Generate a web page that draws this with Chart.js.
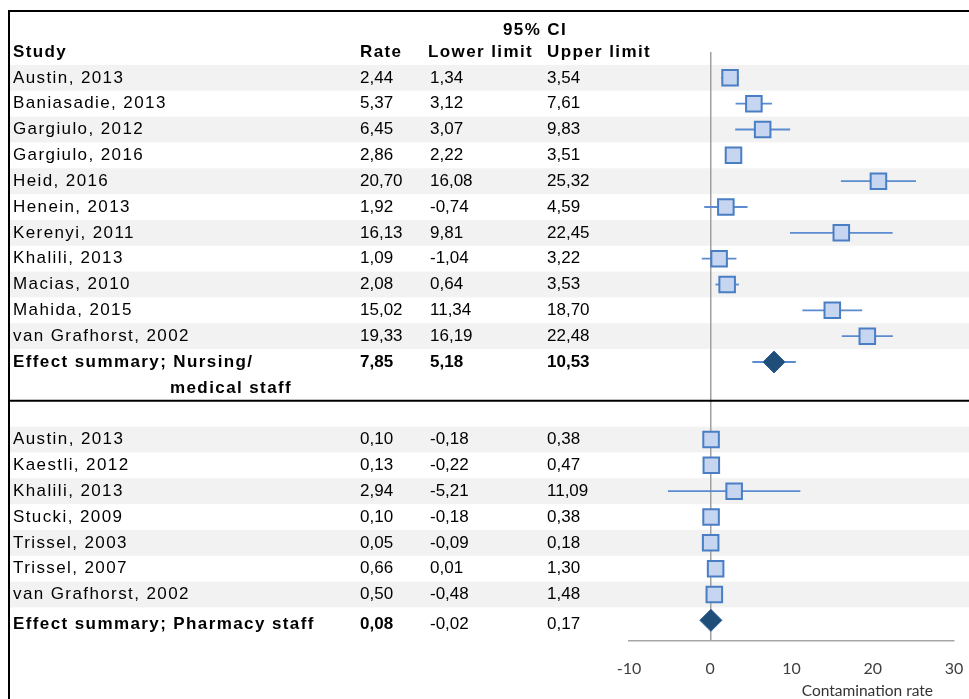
<!DOCTYPE html>
<html>
<head>
<meta charset="utf-8">
<script src="https://cdn.jsdelivr.net/npm/chart.js@4.4.1/dist/chart.umd.min.js"></script>
<style>
  html, body { margin: 0; padding: 0; background: #ffffff; }
  #wrap { width: 969px; height: 699px; position: relative; }
</style>
</head>
<body>
<div id="wrap"><canvas id="c" width="969" height="699"></canvas></div>
<script>
// ---- Data ----
const nursingStudies = ["Austin, 2013", "Baniasadie, 2013", "Gargiulo, 2012", "Gargiulo, 2016", "Heid, 2016", "Henein, 2013", "Kerenyi, 2011", "Khalili, 2013", "Macias, 2010", "Mahida, 2015", "van Grafhorst, 2002"];
const nursingRate  = [2.44, 5.37, 6.45, 2.86, 20.70, 1.92, 16.13, 1.09, 2.08, 15.02, 19.33];
const nursingLower = [1.34, 3.12, 3.07, 2.22, 16.08, -0.74, 9.81, -1.04, 0.64, 11.34, 16.19];
const nursingUpper = [3.54, 7.61, 9.83, 3.51, 25.32, 4.59, 22.45, 3.22, 3.53, 18.70, 22.48];
const nursingSummaryLabel = ["Effect summary; Nursing/", "medical staff"];
const nursingSummary = [7.85, 5.18, 10.53]; // rate, lower, upper

const pharmacyStudies = ["Austin, 2013", "Kaestli, 2012", "Khalili, 2013", "Stucki, 2009", "Trissel, 2003", "Trissel, 2007", "van Grafhorst, 2002"];
const pharmacyRate  = [0.10, 0.13, 2.94, 0.10, 0.05, 0.66, 0.50];
const pharmacyLower = [-0.18, -0.22, -5.21, -0.18, -0.09, 0.01, -0.48];
const pharmacyUpper = [0.38, 0.47, 11.09, 0.38, 0.18, 1.30, 1.48];
const pharmacySummaryLabel = "Effect summary; Pharmacy staff";
const pharmacySummary = [0.08, -0.02, 0.17];

const headerLabels = ["Study", "Rate", "Lower limit", "Upper limit"];
const ciHeader = "95% CI";
const xTickValues = [-10, 0, 10, 20, 30];
const xAxisTitle = "Contamination rate";

// ---- Row layout (row indices) ----
const rows = [];
nursingStudies.forEach((s, i) => rows.push({label: s, rate: nursingRate[i], lo: nursingLower[i], hi: nursingUpper[i], r: i, shade: i % 2 === 0}));
const nSumRow = nursingStudies.length;
rows.push({label: nursingSummaryLabel[0], rate: nursingSummary[0], lo: nursingSummary[1], hi: nursingSummary[2], r: nSumRow, summary: true, boldAll: true});
const pStart = nSumRow + 3;
pharmacyStudies.forEach((s, i) => rows.push({label: s, rate: pharmacyRate[i], lo: pharmacyLower[i], hi: pharmacyUpper[i], r: pStart + i, shade: i % 2 === 0}));
const pSumRow = pStart + pharmacyStudies.length;
rows.push({label: pharmacySummaryLabel, rate: pharmacySummary[0], lo: pharmacySummary[1], hi: pharmacySummary[2], r: pSumRow, summary: true, boldAll: false, textShift: 0.15});

const fmt = v => v.toFixed(2).replace('.', ',');

const TABLE_FONT = "'Liberation Sans', Arial, Helvetica, sans-serif";
const COL_STUDY = 13, COL_RATE = 360, COL_LOW = 430, COL_UP = 547;
const TRACK = '1.4px';

const tablePlugin = {
  id: 'tablePlugin',
  beforeDraw(chart) {
    const ctx = chart.ctx;
    const y = chart.scales.y;
    const h = Math.abs(y.getPixelForValue(1) - y.getPixelForValue(0));
    ctx.save();
    ctx.fillStyle = '#f2f2f2';
    rows.forEach(row => {
      if (row.shade) {
        const cy = y.getPixelForValue(row.r);
        ctx.fillRect(10, cy - h / 2, chart.width - 10, h);
      }
    });
    ctx.restore();
  },
  afterDraw(chart) {
    const ctx = chart.ctx;
    const y = chart.scales.y;
    ctx.save();
    ctx.strokeStyle = '#000000';
    ctx.lineWidth = 2;
    ctx.beginPath();
    ctx.moveTo(9, chart.height); ctx.lineTo(9, 11); ctx.lineTo(chart.width, 11);
    ctx.stroke();
    const sepY = y.getPixelForValue(nSumRow + 1.5);
    ctx.beginPath();
    ctx.moveTo(9, sepY); ctx.lineTo(chart.width, sepY);
    ctx.stroke();

    ctx.fillStyle = '#000000';
    ctx.textBaseline = 'middle';
    ctx.textAlign = 'left';
    ctx.font = "bold 17px " + TABLE_FONT;
    ctx.letterSpacing = TRACK;
    const hy = y.getPixelForValue(-1);
    ctx.fillText(headerLabels[0], COL_STUDY, hy);
    ctx.fillText(headerLabels[1], COL_RATE, hy);
    ctx.fillText(headerLabels[2], 428, hy);
    ctx.fillText(headerLabels[3], COL_UP, hy);
    ctx.textAlign = 'center';
    ctx.fillText(ciHeader, 535, y.getPixelForValue(-1.85));
    ctx.textAlign = 'left';

    rows.forEach(row => {
      const cy = y.getPixelForValue(row.r + (row.textShift || 0));
      ctx.letterSpacing = TRACK;
      ctx.font = (row.summary ? "bold " : "") + "17px " + TABLE_FONT;
      ctx.fillText(row.label, COL_STUDY, cy);
      ctx.letterSpacing = '0px';
      ctx.fillText(fmt(row.rate), COL_RATE, cy);
      ctx.font = (row.boldAll ? "bold " : "") + "17px " + TABLE_FONT;
      ctx.fillText(fmt(row.lo), COL_LOW, cy);
      ctx.fillText(fmt(row.hi), COL_UP, cy);
    });
    ctx.letterSpacing = TRACK;
    ctx.font = "bold 17px " + TABLE_FONT;
    ctx.fillText(nursingSummaryLabel[1], 170, y.getPixelForValue(nSumRow + 1));

    ctx.letterSpacing = '0px';
    ctx.font = "15.5px Lato, 'Liberation Sans', sans-serif";
    ctx.fillStyle = '#333333';
    ctx.textAlign = 'right';
    ctx.fillText(xAxisTitle, 933, 691);
    ctx.restore();
  }
};

const studyRows = rows.filter(r => !r.summary);
const summaryRows = rows.filter(r => r.summary);

const ciDatasets = rows.map(r => ({
  type: 'scatter',
  label: 'CI ' + r.label,
  data: [{x: r.lo, y: r.r}, {x: r.hi, y: r.r}],
  showLine: true,
  borderColor: '#5b8bd0',
  borderWidth: 1.8,
  pointRadius: 0,
  pointHoverRadius: 0,
  order: 2
}));

new Chart(document.getElementById('c'), {
  type: 'scatter',
  data: {
    datasets: [
      {
        label: 'Studies',
        data: studyRows.map(r => ({x: r.rate, y: r.r})),
        pointStyle: 'rect',
        pointRadius: 11,
        pointHoverRadius: 11,
        backgroundColor: '#c6d5f0',
        borderColor: '#4a7ec4',
        borderWidth: 2,
        order: 0
      },
      {
        label: 'Summary',
        data: summaryRows.map(r => ({x: r.rate, y: r.r})),
        pointStyle: 'rectRot',
        pointRadius: 11,
        pointHoverRadius: 11,
        backgroundColor: '#1f4e79',
        borderColor: '#2f5f99',
        borderWidth: 1,
        order: 0
      },
      ...ciDatasets
    ]
  },
  options: {
    responsive: false,
    animation: false,
    devicePixelRatio: 1,
    layout: { padding: { left: 629, right: 15, top: 52, bottom: 0 } },
    plugins: { legend: { display: false }, tooltip: { enabled: false } },
    scales: {
      x: {
        type: 'linear',
        min: -10, max: 30,
        afterBuildTicks: s => { s.ticks = xTickValues.map(v => ({value: v})); },
        afterFit: s => { s.height = 58; },
        grid: {
          drawTicks: true,
          tickLength: 18,
          tickColor: 'rgba(0,0,0,0)',
          color: c => (c.tick && c.tick.value === 0) ? '#a0a0a0' : 'rgba(0,0,0,0)',
          lineWidth: 1.5
        },
        border: { display: true, color: '#a6a6a6', width: 1.5 },
        ticks: { padding: 0, color: '#404040', font: { family: "Lato, 'Liberation Sans', sans-serif", size: 16 }, maxRotation: 0 }
      },
      y: {
        type: 'linear',
        reverse: true,
        min: -1, max: 21.8,
        display: false
      }
    }
  },
  plugins: [tablePlugin]
});
</script>
</body>
</html>
